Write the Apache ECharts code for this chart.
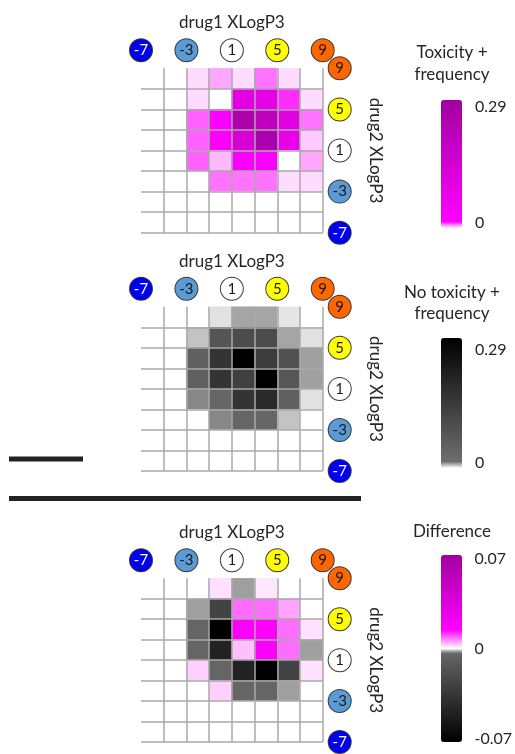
<!DOCTYPE html>
<html>
<head>
<meta charset="utf-8">
<script src="https://cdn.jsdelivr.net/npm/echarts@6/dist/echarts.min.js"></script>
<style>
  html, body { margin: 0; padding: 0; background: #fff; }
  #chart { width: 515px; height: 754px; }
</style>
</head>
<body>
<div id="chart"></div>
<script>
// ---- data ----
const xBins = ['-7~-5', '-5~-3', '-3~-1', '-1~1', '1~3', '3~5', '5~7', '7~9'];
const yBins = ['-7~-5', '-5~-3', '-3~-1', '-1~1', '1~3', '3~5', '5~7', '7~9'];
const tickLabels = ['-7', '-3', '1', '5', '9'];

// rows listed from top (drug2 7~9) to bottom (drug2 -7~-5); columns drug1 -7~-5 ... 7~9
const toxicity = [
  [0, 0, 0.002, 0.005, 0.002, 0.008, 0.002, 0],
  [0, 0, 0.002, 0, 0.10, 0.09, 0.012, 0.002],
  [0, 0, 0.009, 0.02, 0.25, 0.20, 0.10, 0.008],
  [0, 0, 0.009, 0.025, 0.14, 0.26, 0.08, 0.003],
  [0, 0, 0.009, 0.004, 0.03, 0.03, 0, 0.005],
  [0, 0, 0, 0.008, 0.008, 0.008, 0.002, 0.002],
  [0, 0, 0, 0, 0, 0, 0, 0],
  [0, 0, 0, 0, 0, 0, 0, 0]
];
const noToxicity = [
  [0, 0, 0, 0.003, 0.009, 0.009, 0.0025, 0],
  [0, 0, 0.006, 0.077, 0.10, 0.10, 0.009, 0.003],
  [0, 0, 0.05, 0.16, 0.29, 0.14, 0.085, 0.0095],
  [0, 0, 0.05, 0.16, 0.13, 0.29, 0.075, 0.0095],
  [0, 0, 0.012, 0.0345, 0.16, 0.185, 0.05, 0.003],
  [0, 0, 0, 0.012, 0.0345, 0.0345, 0.006, 0],
  [0, 0, 0, 0, 0, 0, 0, 0],
  [0, 0, 0, 0, 0, 0, 0, 0]
];
const difference = [
  [0, 0, 0, 0.0017, -0.0022, 0.0013, 0, 0],
  [0, 0, -0.0022, -0.026, 0.008, 0.008, 0.005, 0],
  [0, 0, -0.004, -0.07, 0.016, 0.016, 0.008, 0.0017],
  [0, 0, -0.004, -0.048, 0.0035, 0.016, 0.008, -0.0022],
  [0, 0, 0.0026, -0.004, -0.048, -0.07, -0.026, 0.0017],
  [0, 0, 0, 0.0026, -0.004, -0.004, -0.0022, 0],
  [0, 0, 0, 0, 0, 0, 0, 0],
  [0, 0, 0, 0, 0, 0, 0, 0]
];
const freqRange = [0, 0.29];
const diffRange = [-0.07, 0.07];

// ---- styles ----
const FONT = 'Lato';
const circleFill = ['#0000ee', '#5b9bd5', '#ffffff', '#ffff00', '#ff6600'];
const circleText = ['#ffffff', '#1a1a1a', '#1a1a1a', '#1a1a1a', '#1a1a1a'];

function hex(c) { return [parseInt(c.substr(1, 2), 16), parseInt(c.substr(3, 2), 16), parseInt(c.substr(5, 2), 16)]; }
function ramp(anchors, lo, hi, n) {
  const out = [];
  for (let i = 0; i < n; i++) {
    const v = lo + (hi - lo) * i / (n - 1);
    let k = 0;
    while (k < anchors.length - 2 && v > anchors[k + 1][0]) k++;
    const a = anchors[k], b = anchors[k + 1];
    const t = Math.max(0, Math.min(1, (v - a[0]) / (b[0] - a[0])));
    const ca = hex(a[1]), cb = hex(b[1]);
    const c = ca.map((x, j) => Math.round(x + (cb[j] - x) * t));
    out.push('rgb(' + c.join(',') + ')');
  }
  return out;
}
const rampTox = ramp([[0, '#ffffff'], [0.0145, '#ff00ff'], [0.29, '#a000a0']], 0, 0.29, 201);
const rampNo = ramp([[0, '#ffffff'], [0.0145, '#6e6e6e'], [0.29, '#000000']], 0, 0.29, 201);
const rampDiff = ramp([[-0.07, '#000000'], [-0.0035, '#666666'], [0, '#ffffff'], [0.014, '#ff00ff'], [0.07, '#a000a0']], -0.07, 0.07, 281);

function toHeat(rows) {
  const out = [];
  rows.forEach((row, r) => row.forEach((v, c) => out.push([c, yBins.length - 1 - r, v])));
  return out;
}

const rich = {};
circleFill.forEach((f, i) => {
  rich['c' + i] = {
    backgroundColor: f, color: circleText[i], width: 22, height: 22, lineHeight: 22,
    borderRadius: 12, borderColor: '#3a3a3a', borderWidth: 1, align: 'center',
    fontSize: 15, fontFamily: FONT
  };
});
function circleFormatter(v) {
  const i = Math.round(v / 2);
  return '{c' + i + '|' + tickLabels[i] + '}';
}

const gridTops = [68.3, 306.7, 578.3];
const grids = [], xAxes = [], yAxes = [], series = [];
const panels = [toxicity, noToxicity, difference];
gridTops.forEach((top, i) => {
  grids.push({ left: 141, top: top, width: 181.7, height: 164.4 });
  const gridLine = { show: true, interval: 0, lineStyle: { color: '#a8a8a8', width: 1.5 } };
  xAxes.push({
    type: 'category', gridIndex: i, data: xBins, position: 'bottom', z: 10,
    axisLine: { show: false }, axisTick: { show: false }, axisLabel: { show: false },
    splitLine: Object.assign({ showMinLine: false, showMaxLine: true }, gridLine)
  });
  xAxes.push({
    type: 'value', gridIndex: i, position: 'top', min: 0, max: 8, interval: 2,
    axisLine: { show: false }, axisTick: { show: false }, splitLine: { show: false },
    axisLabel: { show: true, margin: 7, formatter: circleFormatter, rich: rich, showMinLabel: true, showMaxLabel: true },
    name: 'drug1 XLogP3', nameLocation: 'middle', nameGap: 37,
    nameTextStyle: { fontSize: 17, fontFamily: FONT, color: '#262626' }
  });
  yAxes.push({
    type: 'category', gridIndex: i, data: yBins, position: 'left', z: 10,
    axisLine: { show: false }, axisTick: { show: false }, axisLabel: { show: false },
    splitLine: Object.assign({ showMinLine: true, showMaxLine: false }, gridLine)
  });
  yAxes.push({
    type: 'value', gridIndex: i, position: 'right', min: 0, max: 8, interval: 2, z: 11,
    axisLine: { show: false }, axisTick: { show: false }, splitLine: { show: false },
    axisLabel: { show: true, margin: 6, formatter: circleFormatter, rich: rich, showMinLabel: true, showMaxLabel: true },
    name: 'drug2 XLogP3', nameLocation: 'middle', nameGap: 44, nameRotate: -90,
    nameTextStyle: { fontSize: 17, fontFamily: FONT, color: '#262626' }
  });
  series.push({
    type: 'heatmap', xAxisIndex: 2 * i, yAxisIndex: 2 * i,
    data: toHeat(panels[i]), itemStyle: { borderWidth: 0 }, emphasis: { disabled: true }
  });
});

// colour-bar label axes
const barLabelGrids = [
  { top: 107, height: 116, range: freqRange, step: 0.29 },
  { top: 350, height: 113, range: freqRange, step: 0.29 },
  { top: 559, height: 180, range: diffRange, step: 0.07 }
];
function barFmt(v) { return Math.abs(v) < 1e-9 ? '0' : v.toFixed(2); }
barLabelGrids.forEach((g, k) => {
  const gi = 3 + k;
  grids.push({ left: 441, width: 21, top: g.top, height: g.height });
  xAxes.push({ type: 'value', gridIndex: gi, show: false, min: 0, max: 1 });
  yAxes.push({
    type: 'value', gridIndex: gi, position: 'right', min: g.range[0], max: g.range[1],
    interval: g.step,
    axisLine: { show: false }, axisTick: { show: false }, splitLine: { show: false },
    axisLabel: { margin: 13, fontSize: 16, fontFamily: FONT, color: '#262626', formatter: barFmt, showMinLabel: true, showMaxLabel: true }
  });
});

const titleStyle = { font: '17px ' + FONT, fill: '#262626', textAlign: 'center', textVerticalAlign: 'middle', align: 'center', verticalAlign: 'middle' };
const option = {
  animation: false,
  backgroundColor: '#ffffff',
  textStyle: { fontFamily: FONT },
  grid: grids,
  xAxis: xAxes,
  yAxis: yAxes,
  visualMap: [
    { type: 'continuous', seriesIndex: 0, min: freqRange[0], max: freqRange[1], calculable: false,
      orient: 'vertical', left: 441, top: 100, itemWidth: 21, itemHeight: 128, padding: 0,
      inRange: { color: rampTox } },
    { type: 'continuous', seriesIndex: 1, min: freqRange[0], max: freqRange[1], calculable: false,
      orient: 'vertical', left: 441, top: 338, itemWidth: 21, itemHeight: 130, padding: 0,
      inRange: { color: rampNo } },
    { type: 'continuous', seriesIndex: 2, min: diffRange[0], max: diffRange[1], calculable: false,
      orient: 'vertical', left: 441, top: 555, itemWidth: 21, itemHeight: 187, padding: 0,
      inRange: { color: rampDiff } }
  ],
  graphic: [
    { type: 'text', x: 452, y: 64, style: Object.assign({ text: 'Toxicity +\nfrequency', lineHeight: 22 }, titleStyle) },
    { type: 'text', x: 452, y: 303, style: Object.assign({ text: 'No toxicity +\nfrequency', lineHeight: 21 }, titleStyle) },
    { type: 'text', x: 452, y: 532, style: Object.assign({ text: 'Difference' }, titleStyle) },
    { type: 'rect', shape: { x: 9, y: 456.5, width: 74, height: 5 }, style: { fill: '#222222' } },
    { type: 'rect', shape: { x: 9, y: 496, width: 352, height: 5 }, style: { fill: '#222222' } }
  ],
  series: series
};

const chart = echarts.init(document.getElementById('chart'));
chart.setOption(option);
</script>
</body>
</html>
